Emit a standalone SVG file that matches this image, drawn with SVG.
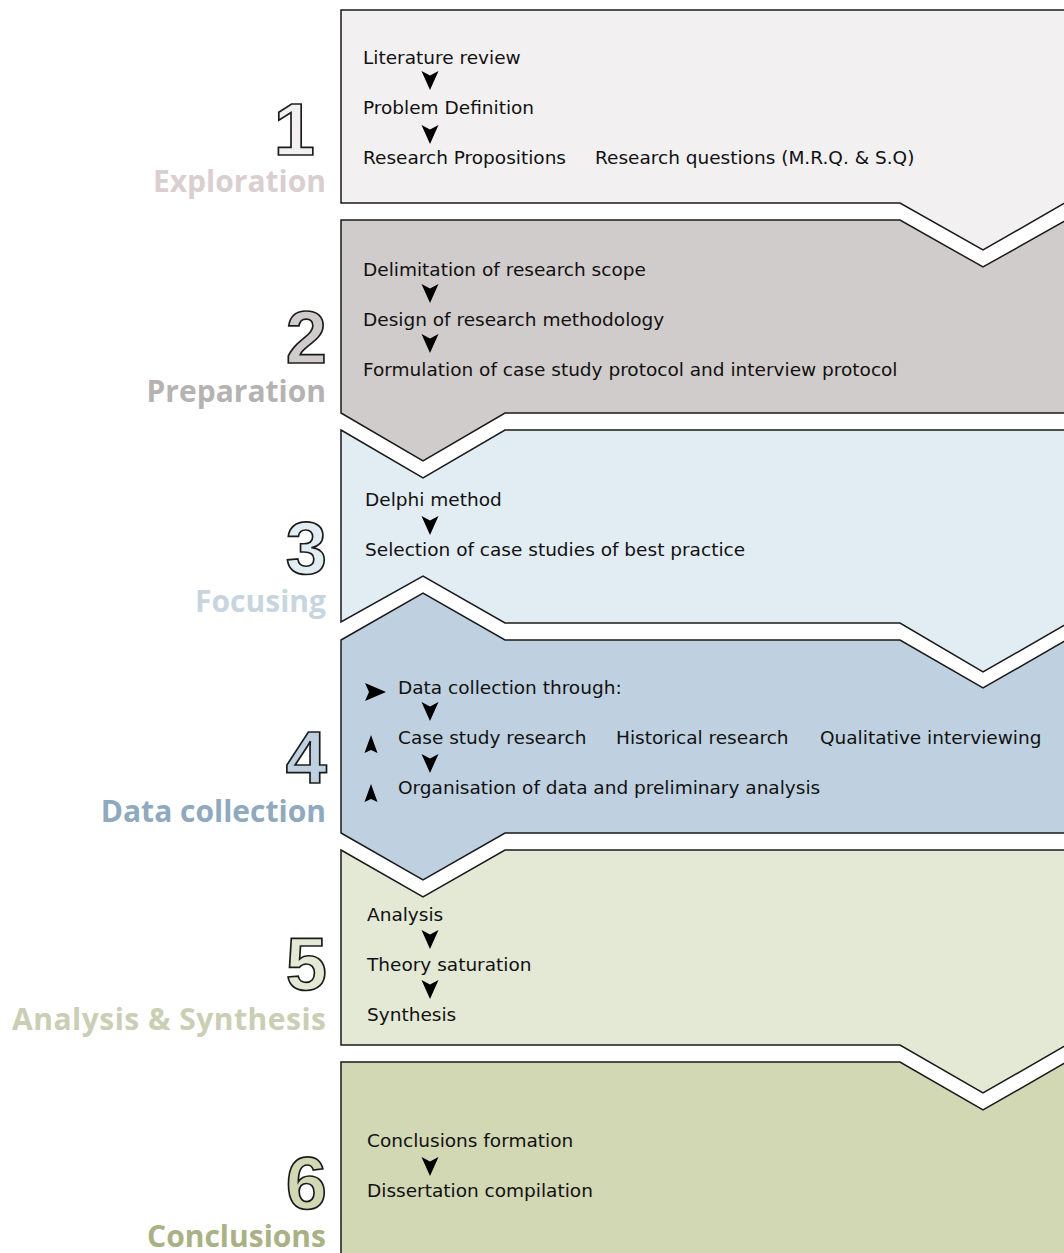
<svg xmlns="http://www.w3.org/2000/svg" width="1064" height="1253" viewBox="0 0 1064 1253">
<style>
.band{stroke:#1a1a1a;stroke-width:1.5;stroke-linejoin:miter}
.t{font-family:"DejaVu Sans",sans-serif;font-size:18.5px;fill:#111}
.num{font-family:"Liberation Sans",Arial,sans-serif;font-weight:bold;font-size:74px;stroke:#1a1a1a;stroke-width:1.7;text-anchor:end}
.lab{font-family:"Open Sans",sans-serif;font-weight:bold;font-size:30px;text-anchor:end}
.ah{fill:#000}
</style>
<defs>
<path id="down" d="M-8.5,0 L0,4.5 L8.5,0 L0,19 Z"/>
<path id="up" d="M0,0 L6.5,18 L0,15 L-6.5,18 Z"/>
<path id="right" d="M0,0 L21,9 L0,18 L4,9 Z"/>
</defs>
<rect width="1064" height="1253" fill="#fff"/>

<g id="band1">
<path class="band" fill="#f2f0f1" d="M341,10 H1070 V200 L983,250 L900,203 H341 Z"/>
<text class="t" x="363" y="64">Literature review</text>
<text class="t" x="363" y="114">Problem Definition</text>
<text class="t" x="363" y="164">Research Propositions</text>
<text class="t" x="595" y="164">Research questions (M.R.Q. &amp; S.Q)</text>
<text class="num" x="315" y="155" fill="#f2f0f1">1</text>
<text class="lab" x="326" y="192" fill="#d9cfcf">Exploration</text>
</g>

<g id="band2">
<path class="band" fill="#d0cccb" d="M341,220 H900 L983,267 L1070,218 V413 H505 L423,461 L341,413 Z"/>
<text class="t" x="363" y="276">Delimitation of research scope</text>
<text class="t" x="363" y="326">Design of research methodology</text>
<text class="t" x="363" y="376">Formulation of case study protocol and interview protocol</text>
<text class="num" x="327" y="363" fill="#d0cccb">2</text>
<text class="lab" x="326" y="402" fill="#b6b2b1">Preparation</text>
</g>

<g id="band3">
<path class="band" fill="#e2ecf3" d="M341,430 L423,478 L505,430 H1070 V622 L983,672 L900,623 H505 L423,576 L341,622 Z"/>
<text class="t" x="365" y="506">Delphi method</text>
<text class="t" x="365" y="556">Selection of case studies of best practice</text>
<text class="num" x="327" y="574" fill="#e2ecf3">3</text>
<text class="lab" x="326" y="612" fill="#c8d5de">Focusing</text>
</g>

<g id="band4">
<path class="band" fill="#bfd1e0" d="M341,640 L423,593 L505,640 H900 L983,688 L1070,638 V833 H505 L423,880 L341,833 Z"/>
<text class="t" x="398" y="694">Data collection through:</text>
<text class="t" x="398" y="744">Case study research</text>
<text class="t" x="616" y="744">Historical research</text>
<text class="t" x="820" y="744">Qualitative interviewing</text>
<text class="t" x="398" y="794">Organisation of data and preliminary analysis</text>
<text class="num" x="327" y="783" fill="#bfd1e0">4</text>
<text class="lab" x="326" y="822" fill="#8fa9bf">Data collection</text>
</g>

<g id="band5">
<path class="band" fill="#e4e9d6" d="M341,850 L423,897 L505,850 H1070 V1043 L983,1093 L900,1045 H341 Z"/>
<text class="t" x="367" y="921">Analysis</text>
<text class="t" x="367" y="971">Theory saturation</text>
<text class="t" x="367" y="1021">Synthesis</text>
<text class="num" x="327" y="990" fill="#e4e9d6">5</text>
<text class="lab" x="326" y="1030" fill="#c9ceb5" textLength="314" lengthAdjust="spacing">Analysis &amp; Synthesis</text>
</g>

<g id="band6">
<path class="band" fill="#d2d7b4" d="M341,1062 H900 L983,1110 L1070,1060 V1262 H341 Z"/>
<text class="t" x="367" y="1147">Conclusions formation</text>
<text class="t" x="367" y="1197">Dissertation compilation</text>
<text class="num" x="327" y="1209" fill="#d2d7b4">6</text>
<text class="lab" x="326" y="1247" fill="#a9b185">Conclusions</text>
</g>

<g id="connectors" class="ah">
<use href="#down" x="430" y="71"/>
<use href="#down" x="430" y="125"/>
<use href="#down" x="430" y="284"/>
<use href="#down" x="430" y="334"/>
<use href="#down" x="430" y="516"/>
<use href="#right" x="365" y="683"/>
<use href="#down" x="430" y="702"/>
<use href="#up" x="371" y="735"/>
<use href="#down" x="430" y="754"/>
<use href="#up" x="371" y="784"/>
<use href="#down" x="430" y="930"/>
<use href="#down" x="430" y="980"/>
<use href="#down" x="430" y="1157"/>
</g>
</svg>
